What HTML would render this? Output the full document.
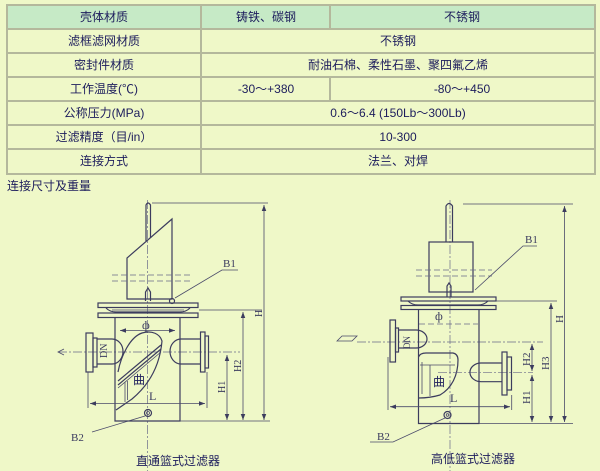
<!DOCTYPE html>
<html><head><meta charset="utf-8">
<style>
html,body{margin:0;padding:0;background:#eff8c8;}
body{width:600px;height:471px;overflow:hidden;position:relative;font-family:"Liberation Sans","Noto Sans CJK SC",sans-serif;}
svg{position:absolute;left:0;top:0;}
.t{font-family:"Liberation Sans","Noto Sans CJK SC",sans-serif;font-size:12px;fill:#1c1c5c;}
.s{font-family:"Liberation Serif","Noto Serif CJK SC",serif;fill:#3a3a5e;}
.ln{stroke:#3c3c5e;stroke-width:1.2;fill:none;}
.th{stroke:#4a4a6a;stroke-width:0.8;fill:none;}
.cl{stroke:#6a6a88;stroke-width:0.7;fill:none;stroke-dasharray:9 2 2 2;}
.ds{stroke:#6a6a88;stroke-width:0.8;fill:none;stroke-dasharray:6 3;}
</style></head><body>
<svg width="600" height="471" viewBox="0 0 600 471" xmlns="http://www.w3.org/2000/svg">
<defs>
<marker id="a" viewBox="0 0 8 6" refX="8" refY="3" markerWidth="6" markerHeight="5" orient="auto-start-reverse" markerUnits="userSpaceOnUse">
<path d="M0,0 L8,3 L0,6 Z" fill="#3c3c5e"/></marker>
</defs>
<rect width="600" height="471" fill="#eff8c8"/>
<!-- table -->
<rect x="8" y="6" width="586" height="22" fill="#c6eac6"/>
<g stroke="#b4b89c" stroke-width="2" fill="none">
<rect x="7" y="5" width="588" height="169"/>
<line x1="7" y1="29" x2="595" y2="29"/>
<line x1="7" y1="53" x2="595" y2="53"/>
<line x1="7" y1="77" x2="595" y2="77"/>
<line x1="7" y1="101" x2="595" y2="101"/>
<line x1="7" y1="125" x2="595" y2="125"/>
<line x1="7" y1="149" x2="595" y2="149"/>
<line x1="201" y1="5" x2="201" y2="174"/>
<line x1="330" y1="5" x2="330" y2="29"/>
<line x1="330" y1="77" x2="330" y2="101"/>
</g>
<g class="t" text-anchor="middle">
<text x="104" y="21">壳体材质</text>
<text x="266" y="21">铸铁、碳钢</text>
<text x="462" y="21">不锈钢</text>
<text x="104" y="45">滤框滤网材质</text>
<text x="398" y="45">不锈钢</text>
<text x="104" y="69">密封件材质</text>
<text x="398" y="69">耐油石棉、柔性石墨、聚四氟乙烯</text>
<text x="104" y="93">工作温度(℃)</text>
<text x="266" y="93">-30～+380</text>
<text x="462" y="93">-80～+450</text>
<text x="104" y="117">公称压力(MPa)</text>
<text x="398" y="117">0.6～6.4 (150Lb～300Lb)</text>
<text x="104" y="141">过滤精度（目/in）</text>
<text x="398" y="141">10-300</text>
<text x="104" y="165">连接方式</text>
<text x="398" y="165">法兰、对焊</text>
</g>
<text class="t" x="7" y="190">连接尺寸及重量</text>

<!-- LEFT DIAGRAM -->
<line class="cl" x1="147.5" y1="200" x2="147.5" y2="471"/>
<line class="cl" x1="58" y1="352" x2="240" y2="352"/>
<path d="M64,349 L58,352 L64,355" class="th"/>
<path class="ln" d="M146,241 V205 Q148,201 150.5,205 V238"/>
<path class="ln" d="M127,299 V258 L172,219 V299 Z"/>
<line class="ds" x1="112" y1="275" x2="193" y2="275"/>
<line class="ds" x1="112" y1="281" x2="193" y2="281"/>
<path class="ln" d="M145.5,301 V292 L148,288 L150.5,292 V301"/>
<circle class="ln" cx="172" cy="301" r="2.5"/>
<path class="th" d="M175,298 L222,270 H238"/>
<text class="s" x="223" y="267" font-size="11">B1</text>
<rect class="ln" x="98" y="303" width="100" height="4.5"/>
<rect class="ln" x="98" y="313" width="100" height="4.5"/>
<path class="ln" d="M106,308 Q110,312 116,312 H180 Q186,312 190,308"/>
<line class="th" x1="112" y1="310" x2="184" y2="310"/>
<path class="ln" d="M115,317.5 V421 H180 V317.5"/>
<line class="th" x1="120" y1="330.5" x2="175" y2="330.5" marker-start="url(#a)" marker-end="url(#a)"/>
<text class="s" x="142" y="329" font-size="12">ф</text>
<!-- left pipe -->
<rect class="ln" x="86" y="333" width="7" height="39" fill="#eff8c8"/>
<rect class="ln" x="93" y="338" width="4" height="29"/>
<path class="ln" d="M97,339 H112 A11,12.5 0 0 1 112,364 H97" fill="#eff8c8"/>
<text class="s" x="0" y="0" font-size="10" transform="translate(107,358) rotate(-90)">DN</text>
<!-- right pipe -->
<path class="ln" d="M200,339 H181 A11,12.5 0 0 0 181,364 H200" fill="#eff8c8"/>
<rect class="ln" x="200.5" y="332" width="4.5" height="40"/>
<rect class="ln" x="205" y="336" width="3.5" height="32"/>
<!-- basket -->
<path class="ln" d="M118,372 C121,356 130,337 142,333 C152,330 160,334 162,341 C160,364 150,384 132,399 L116,410"/>
<line class="ln" x1="161" y1="345" x2="118" y2="381"/>
<line class="ln" x1="161" y1="349" x2="118" y2="385"/>
<line class="th" x1="161" y1="352" x2="118" y2="388"/>
<line class="th" x1="125" y1="382" x2="125" y2="402"/>
<line class="th" x1="127.5" y1="381" x2="127.5" y2="400"/>
<text class="t" x="133" y="384" font-size="11">曲</text>
<circle class="ln" cx="148" cy="413" r="3.5"/>
<circle class="th" cx="148" cy="413" r="1.5"/>
<path class="th" d="M145,416 L92,432"/>
<text class="s" x="71" y="441" font-size="11">B2</text>
<!-- L -->
<line class="th" x1="88" y1="372" x2="88" y2="408"/>
<line class="th" x1="207" y1="372" x2="207" y2="408"/>
<line class="th" x1="90" y1="403.5" x2="205" y2="403.5" marker-start="url(#a)" marker-end="url(#a)"/>
<text class="s" x="149" y="400" font-size="12">L</text>
<!-- heights -->
<line class="th" x1="180" y1="421" x2="270" y2="421"/>
<line class="th" x1="152" y1="203" x2="268" y2="203"/>
<line class="th" x1="199" y1="310" x2="262" y2="310"/>
<line class="th" x1="227" y1="355" x2="227" y2="420" marker-start="url(#a)" marker-end="url(#a)"/>
<line class="th" x1="243" y1="312" x2="243" y2="420" marker-start="url(#a)" marker-end="url(#a)"/>
<line class="th" x1="264" y1="205" x2="264" y2="420" marker-start="url(#a)" marker-end="url(#a)"/>
<text class="s" font-size="10" transform="translate(225,393) rotate(-90)">H1</text>
<text class="s" font-size="10" transform="translate(241,372) rotate(-90)">H2</text>
<text class="s" font-size="10" transform="translate(262,317) rotate(-90)">H</text>
<text class="t" x="178" y="465" text-anchor="middle">直通篮式过滤器</text>

<!-- RIGHT DIAGRAM -->
<line class="cl" x1="450" y1="200" x2="450" y2="471"/>
<line class="cl" x1="357" y1="342" x2="543" y2="342"/>
<path class="th" d="M337,341 L342,336 H357 L352,341 Z"/>
<path class="ln" d="M446,242 V206 Q449,201 452.5,206 V242"/>
<rect class="ln" x="429" y="242" width="44" height="50"/>
<line class="ds" x1="416" y1="270" x2="492" y2="270"/>
<line class="ds" x1="416" y1="276" x2="492" y2="276"/>
<path class="ln" d="M447,297 V286 L449,283 L451,286 V297"/>
<path class="th" d="M475,290 L523,246 H537"/>
<text class="s" x="525" y="243" font-size="11">B1</text>
<rect class="ln" x="401" y="297" width="95" height="4"/>
<rect class="ln" x="401" y="305.5" width="95" height="4"/>
<path class="ln" d="M408,301 Q412,305 418,305 H478 Q484,305 488,301"/>
<path class="ln" d="M418.5,309.5 V423.5 H479 V309.5"/>
<line class="ds" x1="419" y1="324" x2="478" y2="324"/>
<text class="s" x="435" y="320" font-size="12">ф</text>
<!-- left pipe -->
<rect class="ln" x="390" y="320" width="5.5" height="42" fill="#eff8c8"/>
<rect class="ln" x="395.5" y="328" width="3" height="24"/>
<path class="ln" d="M398.5,330 H416 A11,9 0 0 1 416,348 H398.5" fill="#eff8c8"/>
<text class="s" font-size="9" transform="translate(410,349) rotate(-90)">DN</text>
<!-- basket -->
<path class="ln" d="M418.5,357 Q420,353 426,353 H453 Q458,354 458,360 C458,375 452,388 440,395 Q430,398 418.5,398"/>
<line class="th" x1="420" y1="365" x2="455" y2="365"/>
<line class="th" x1="422" y1="362" x2="422" y2="394"/>
<line class="th" x1="430" y1="365" x2="430" y2="396"/>
<text class="t" x="433" y="386" font-size="11">曲</text>
<!-- right pipe -->
<line class="cl" x1="438" y1="372.7" x2="533" y2="372.7"/>
<path class="ln" d="M502,363 H481 A11,9.3 0 0 0 481,381.7 H502" fill="#eff8c8"/>
<rect class="ln" x="502" y="352" width="5" height="43"/>
<rect class="ln" x="507" y="357" width="4.5" height="33"/>
<!-- dims -->
<line class="th" x1="479" y1="423.5" x2="573" y2="423.5"/>
<line class="th" x1="463" y1="204" x2="573" y2="204"/>
<line class="th" x1="496" y1="301" x2="557" y2="301"/>
<line class="th" x1="532" y1="344" x2="532" y2="371" marker-start="url(#a)" marker-end="url(#a)"/>
<line class="th" x1="532" y1="375" x2="532" y2="422" marker-start="url(#a)" marker-end="url(#a)"/>
<line class="th" x1="551" y1="303" x2="551" y2="422" marker-start="url(#a)" marker-end="url(#a)"/>
<line class="th" x1="564.5" y1="206" x2="564.5" y2="422" marker-start="url(#a)" marker-end="url(#a)"/>
<text class="s" font-size="11" transform="translate(530,366) rotate(-90)">H2</text>
<text class="s" font-size="11" transform="translate(530,404) rotate(-90)">H1</text>
<text class="s" font-size="11" transform="translate(549,370) rotate(-90)">H3</text>
<text class="s" font-size="11" transform="translate(563,323) rotate(-90)">H</text>
<line class="th" x1="388" y1="357" x2="388" y2="410"/>
<line class="th" x1="511.7" y1="395" x2="511.7" y2="410"/>
<line class="th" x1="390" y1="406.7" x2="510" y2="406.7" marker-start="url(#a)" marker-end="url(#a)"/>
<text class="s" x="450" y="402" font-size="12">L</text>
<circle class="ln" cx="447.5" cy="415" r="3.5"/>
<circle class="th" cx="447.5" cy="415" r="1.3"/>
<path class="th" d="M445,418 L393,442 H370"/>
<text class="s" x="377" y="440" font-size="11">B2</text>
<text class="t" x="473" y="463" text-anchor="middle">高低篮式过滤器</text>
</svg>
</body></html>
